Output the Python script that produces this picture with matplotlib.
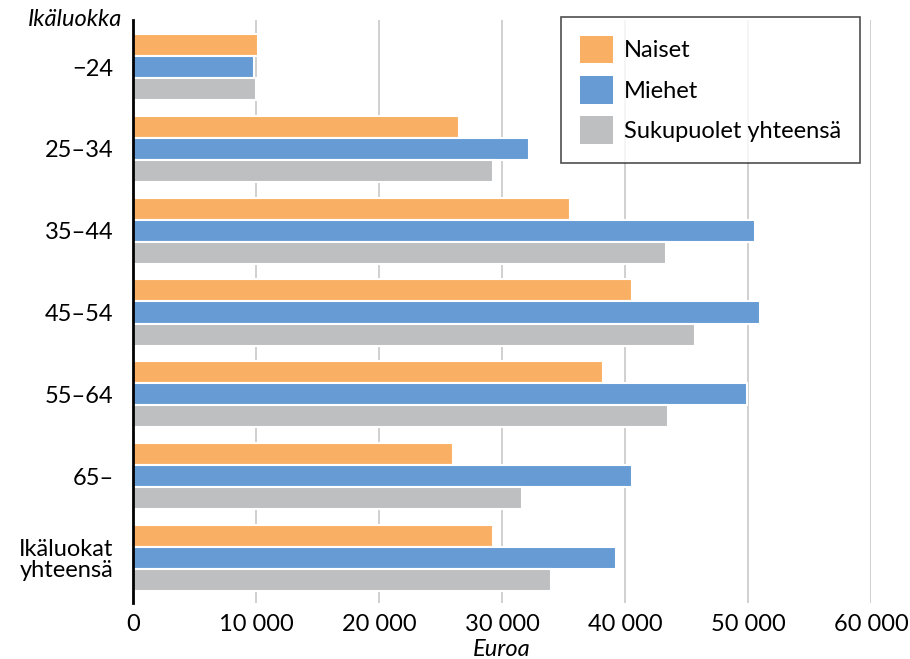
import matplotlib
matplotlib.use("Agg")
import matplotlib.pyplot as plt
import numpy as np
from matplotlib.patches import Patch

categories = ["\u221224", "25\u201334", "35\u201344", "45\u201354", "55\u201364", "65\u2013", "Ikäluokat\nyhteensä"]
naiset = [10200, 26500, 35500, 40600, 38200, 26000, 29300]
miehet = [9800, 32200, 50600, 51000, 49900, 40600, 39300]
yhteensa = [10000, 29300, 43300, 45700, 43500, 31600, 34000]
series_names = ["Naiset", "Miehet", "Sukupuolet yhteensä"]
colors = ["#FAB064", "#669BD4", "#BEBFC1"]
xticks = [0, 10000, 20000, 30000, 40000, 50000, 60000]
xticklabels = ["0", "10 000", "20 000", "30 000", "40 000", "50 000", "60 000"]

plt.rcParams['font.family'] = ['Lato', 'DejaVu Sans']
FS = 17

fig = plt.figure(figsize=(9.1, 6.59), dpi=100)
ax = fig.add_axes([133/910, 1-603/659, (871-133)/910, (603-20)/659])

y = np.arange(len(categories))
h = 0.27
for i, (vals, c, name) in enumerate(zip([naiset, miehet, yhteensa], colors, series_names)):
    ax.barh(y + (i - 1) * h, vals, height=h, color=c, edgecolor="white", linewidth=1.5, label=name, zorder=3)

ax.set_xlim(0, 60000)
ax.set_ylim(6.55, -0.575)
ax.set_xticks(xticks)
ax.set_xticklabels(xticklabels, fontsize=FS)
ax.set_yticks(y)
ax.set_yticklabels(categories, fontsize=FS, linespacing=1.0)
ax.tick_params(axis="x", length=0, pad=8)
ax.tick_params(axis="y", length=0, pad=14)
ax.grid(axis="x", color="#C8C8C8", linewidth=1.2, zorder=0)
for s in ["top", "right", "bottom"]:
    ax.spines[s].set_visible(False)
ax.spines["left"].set_linewidth(2)
ax.spines["left"].set_color("black")
ax.spines["left"].set_zorder(5)

fig.text(75/910, 1-20/659, "Ikäluokka", style="italic", fontsize=FS, ha="center", va="center")
fig.text(502/910, 1-649/659, "Euroa", style="italic", fontsize=FS, ha="center", va="center")

handles = [Patch(facecolor=c, edgecolor="none") for c in colors]
leg = ax.legend(handles, series_names, loc="upper right", bbox_to_anchor=((860-133)/(871-133), 1.005),
                fontsize=FS, frameon=True, fancybox=False, edgecolor="#222222",
                handlelength=1.4, handleheight=1.4, handletextpad=0.45, labelspacing=0.55,
                borderpad=0.8, borderaxespad=0)
leg.get_frame().set_linewidth(1.2)
leg.set_zorder(10)

fig.savefig("out.png", dpi=100, facecolor="white")
